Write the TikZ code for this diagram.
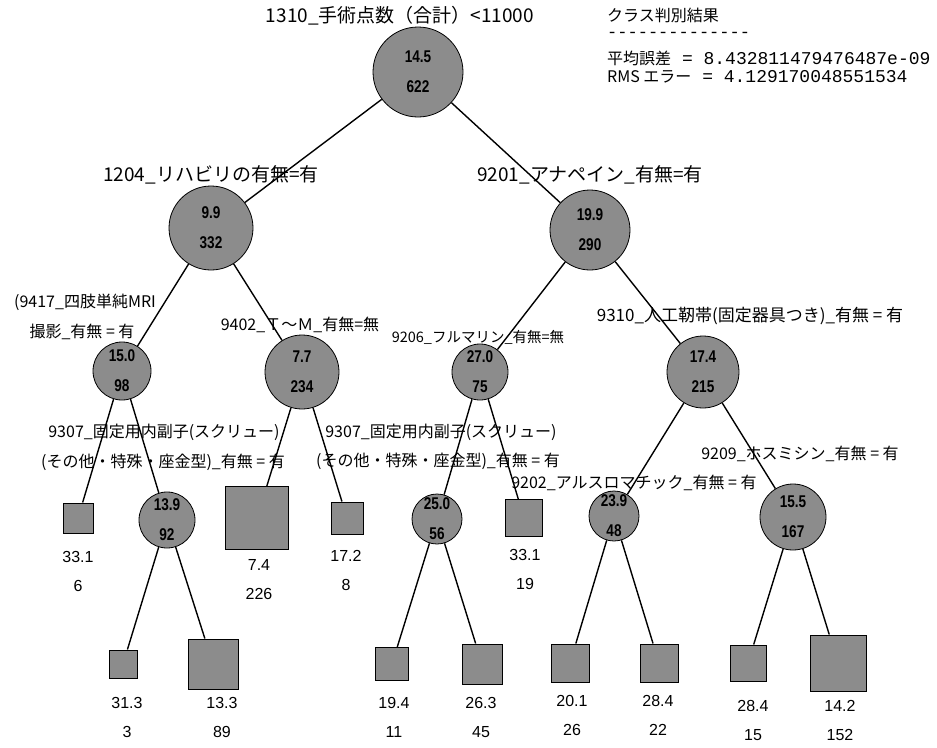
\documentclass[tikz,border=0pt]{standalone}
\usepackage{fontspec}
\setmainfont{Liberation Sans}
\newfontfamily\jp{Noto Sans CJK JP}
\newfontfamily\monofnt{Liberation Mono}[Ligatures = TeXOff]
\newfontfamily\numfnt{Liberation Sans}[FakeStretch = 0.8]
\usepackage{tikz}

\tikzset{
    komoku/.style 2 args = {circle , draw , line width = 0.8pt , fill = black!45 , inner sep = 0pt ,
        label = {[kazu]center:#1\\#2}},
    kazu/.style = {font = \numfnt\bfseries\fontsize{17}{30}\selectfont , align = center},
    ha/.style = {rectangle , draw , line width = 1pt , fill = black!45 , inner sep = 0pt},
    atai/.style = {font = \fontsize{16}{29}\selectfont , align = center , inner sep = 0pt},
    joken/.style = {font = \jp\fontsize{16}{19}\selectfont , inner sep = 0pt},
    eda/.style = {line width = 1.4pt}
}

\begin{document}
\begin{tikzpicture}[x = 1pt , y = -1pt]
    \useasboundingbox (0,0) rectangle (937,747);

    % Κόμβοι
    \node[komoku = {14.5}{622} , minimum size = 90] (root) at (418,72) {};
    \node[komoku = {9.9}{332} , minimum size = 84] (n1) at (211,228) {};
    \node[komoku = {19.9}{290} , minimum size = 80] (n2) at (590,230) {};
    \node[komoku = {15.0}{98} , minimum size = 58] (n11) at (122,371) {};
    \node[komoku = {7.7}{234} , minimum size = 74] (n12) at (302,372) {};
    \node[komoku = {27.0}{75} , minimum size = 56] (n21) at (480,372) {};
    \node[komoku = {17.4}{215} , minimum size = 72] (n22) at (703,372) {};
    \node[komoku = {13.9}{92} , minimum size = 56] (n112) at (167,520) {};
    \node[komoku = {25.0}{56} , minimum size = 50] (n211) at (437,519) {};
    \node[komoku = {23.9}{48} , minimum size = 50] (n221) at (614,516) {};
    \node[komoku = {15.5}{167} , minimum size = 66] (n222) at (793,517) {};

    % Φύλλα
    \node[ha , minimum size = 30] (h111) at (78,518) {};
    \node[atai] (h111v) at (78,571) {33.1\\6};
    \node[ha , minimum size = 63] (h121) at (257,518) {};
    \node[atai] (h121v) at (259,580) {7.4\\226};
    \node[ha , minimum size = 32] (h122) at (347,518) {};
    \node[atai] (h122v) at (346,570) {17.2\\8};
    \node[ha , minimum size = 37] (h212) at (524,518) {};
    \node[atai] (h212v) at (525,569) {33.1\\19};
    \node[ha , minimum size = 28] (h1121) at (123,664) {};
    \node[atai] (h1121v) at (127,717) {31.3\\3};
    \node[ha , minimum size = 50] (h1122) at (213,664) {};
    \node[atai] (h1122v) at (222,717) {13.3\\89};
    \node[ha , minimum size = 33] (h2111) at (392,664) {};
    \node[atai] (h2111v) at (394,717) {19.4\\11};
    \node[ha , minimum size = 40] (h2112) at (482,664) {};
    \node[atai] (h2112v) at (481,717) {26.3\\45};
    \node[ha , minimum size = 38] (h2211) at (570,663) {};
    \node[atai] (h2211v) at (572,715) {20.1\\26};
    \node[ha , minimum size = 38] (h2212) at (659,663) {};
    \node[atai] (h2212v) at (658,715) {28.4\\22};
    \node[ha , minimum size = 36] (h2221) at (748,663) {};
    \node[atai] (h2221v) at (753,720) {28.4\\15};
    \node[ha , minimum size = 56] (h2222) at (838,663) {};
    \node[atai] (h2222v) at (840,720) {14.2\\152};

    % Ετικέτες
    \node[joken , font = \jp\fontsize{19}{21}\selectfont] (j0) at (400,16) {1310\_手術点数（合計）<11000};
    \node[joken , font = \jp\fontsize{19}{21}\selectfont] (j1) at (211,175) {1204\_リハビリの有無=有};
    \node[joken , font = \jp\fontsize{19}{21}\selectfont] (j2) at (590,175) {9201\_アナペイン\_有無=有};
    \node[joken] (j11a) at (85,302) {(9417\_四肢単純MRI};
    \node[joken] (j11b) at (82,332) {撮影\_有無 = 有};
    \node[joken] (j12) at (300,325) {9402\_Ｔ～Ｍ\_有無=無};
    \node[joken , font = \jp\fontsize{14.5}{17}\selectfont] (j21) at (478,337) {9206\_フルマリン\_有無=無};
    \node[joken , font = \jp\fontsize{17}{19}\selectfont] (j22) at (750,316) {9310\_人工靭帯(固定器具つき)\_有無 = 有};
    \node[joken] (j112a) at (164,432) {9307\_固定用内副子(スクリュー)};
    \node[joken] (j112b) at (163,462) {(その他・特殊・座金型)\_有無 = 有};
    \node[joken] (j211a) at (441,432) {9307\_固定用内副子(スクリュー)};
    \node[joken] (j211b) at (438,461) {(その他・特殊・座金型)\_有無 = 有};
    \node[joken] (j221) at (634,483) {9202\_アルスロマチック\_有無 = 有};
    \node[joken] (j222) at (800,454) {9209\_ホスミシン\_有無 = 有};

    % Αποτέλεσμα
    \node[anchor = west , inner sep = 0pt , font = \jp\fontsize{16}{18}\selectfont] (k1) at (607,15) {クラス判別結果};
    \node[anchor = west , inner sep = 0pt , font = \monofnt\fontsize{17}{18}\selectfont] (k2) at (607,35) {--------------};
    \node[anchor = west , inner sep = 0pt] (k3) at (607,58) {{\jp\fontsize{16}{18}\selectfont 平均誤差}{\monofnt\fontsize{18}{18}\selectfont{} = 8.432811479476487e-09}};
    \node[anchor = west , inner sep = 0pt] (k4) at (607,77) {{\jp\fontsize{16}{18}\selectfont RMS エラー}{\monofnt\fontsize{18}{18}\selectfont{} = 4.129170048551534}};

    % Ακμές
    \draw[eda] (root) -- (n1);
    \draw[eda] (root) -- (n2);
    \draw[eda] (n1) -- (n11);
    \draw[eda] (n1) -- (n12);
    \draw[eda] (n2) -- (n21);
    \draw[eda] (n2) -- (n22);
    \draw[eda] (n11) -- (h111);
    \draw[eda] (n11) -- (n112);
    \draw[eda] (n12) -- (h121);
    \draw[eda] (n12) -- (h122);
    \draw[eda] (n21) -- (n211);
    \draw[eda] (n21) -- (h212);
    \draw[eda] (n22) -- (n221);
    \draw[eda] (n22) -- (n222);
    \draw[eda] (n112) -- (h1121);
    \draw[eda] (n112) -- (h1122);
    \draw[eda] (n211) -- (h2111);
    \draw[eda] (n211) -- (h2112);
    \draw[eda] (n221) -- (h2211);
    \draw[eda] (n221) -- (h2212);
    \draw[eda] (n222) -- (h2221);
    \draw[eda] (n222) -- (h2222);
\end{tikzpicture}
\end{document}
